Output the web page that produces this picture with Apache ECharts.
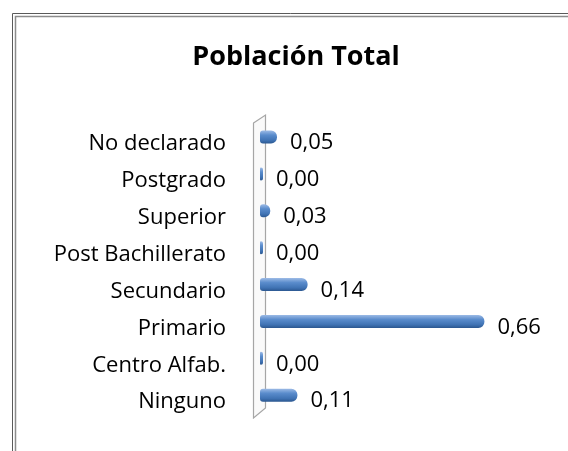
<!DOCTYPE html>
<html>
<head>
<meta charset="utf-8">
<script src="https://cdn.jsdelivr.net/npm/echarts@6/dist/echarts.min.js"></script>
<style>
  html, body { margin: 0; padding: 0; background: #fff; }
  #chart { width: 568px; height: 451px; }
</style>
</head>
<body>
<div id="chart"></div>
<script>
// categories listed bottom to top, as the category axis draws them
const categories = ['Ninguno', 'Centro Alfab.', 'Primario', 'Secundario', 'Post Bachillerato', 'Superior', 'Postgrado', 'No declarado']
const values = [0.11, 0.00, 0.66, 0.14, 0.00, 0.03, 0.00, 0.05]

const chart = echarts.init(document.getElementById('chart'))

chart.setOption({
  animation: false,
  title: {
    text: 'Población Total',
    left: 291,
    textAlign: 'center',
    top: 39,
    textStyle: {
      fontFamily: 'Open Sans',
      fontWeight: 'bold',
      fontSize: 27,
      color: '#000'
    }
  },
  // chart frame and the thin 3D wall behind the bars
  graphic: [
    {
      type: 'rect',
      shape: { x: 12.5, y: 13.5, width: 600, height: 500 },
      style: { fill: 'none', stroke: '#5a5a5a', lineWidth: 1 },
      silent: true
    },
    {
      type: 'rect',
      shape: { x: 15.5, y: 16.5, width: 600, height: 500 },
      style: { fill: 'none', stroke: '#8c8c8c', lineWidth: 1.5 },
      silent: true
    },
    {
      type: 'polygon',
      shape: { points: [[253.5, 123], [265.5, 115], [265.5, 408], [253.5, 418]] },
      style: { fill: '#fafafa', stroke: '#a6a6a6', lineWidth: 1.2 },
      z: 0,
      silent: true
    }
  ],
  grid: {
    left: 260,
    top: 118.6,
    bottom: 37.4,
    right: 36
  },
  xAxis: {
    type: 'value',
    min: 0,
    max: 0.8,
    show: false
  },
  yAxis: {
    type: 'category',
    data: categories,
    axisLine: { show: false },
    axisTick: { show: false },
    axisLabel: {
      margin: 34,
      fontFamily: 'Open Sans',
      fontSize: 22,
      color: '#000',
      verticalAlign: 'top',
      lineHeight: 14
    }
  },
  series: [
    {
      type: 'bar',
      data: values,
      barWidth: 13,
      barMinHeight: 3,
      z: 3,
      itemStyle: {
        borderRadius: [3, 6, 6, 3],
        color: new echarts.graphic.LinearGradient(0, 0, 0, 1, [
          { offset: 0, color: '#9dbbe6' },
          { offset: 0.35, color: '#5a8ccc' },
          { offset: 0.75, color: '#4073b4' },
          { offset: 1, color: '#2b5790' }
        ])
      },
      label: {
        show: true,
        position: 'right',
        distance: 13,
        offset: [0, 6],
        fontFamily: 'Open Sans',
        fontSize: 22,
        color: '#000',
        formatter: p => p.value.toFixed(2).replace('.', ',')
      }
    }
  ]
})
</script>
</body>
</html>
